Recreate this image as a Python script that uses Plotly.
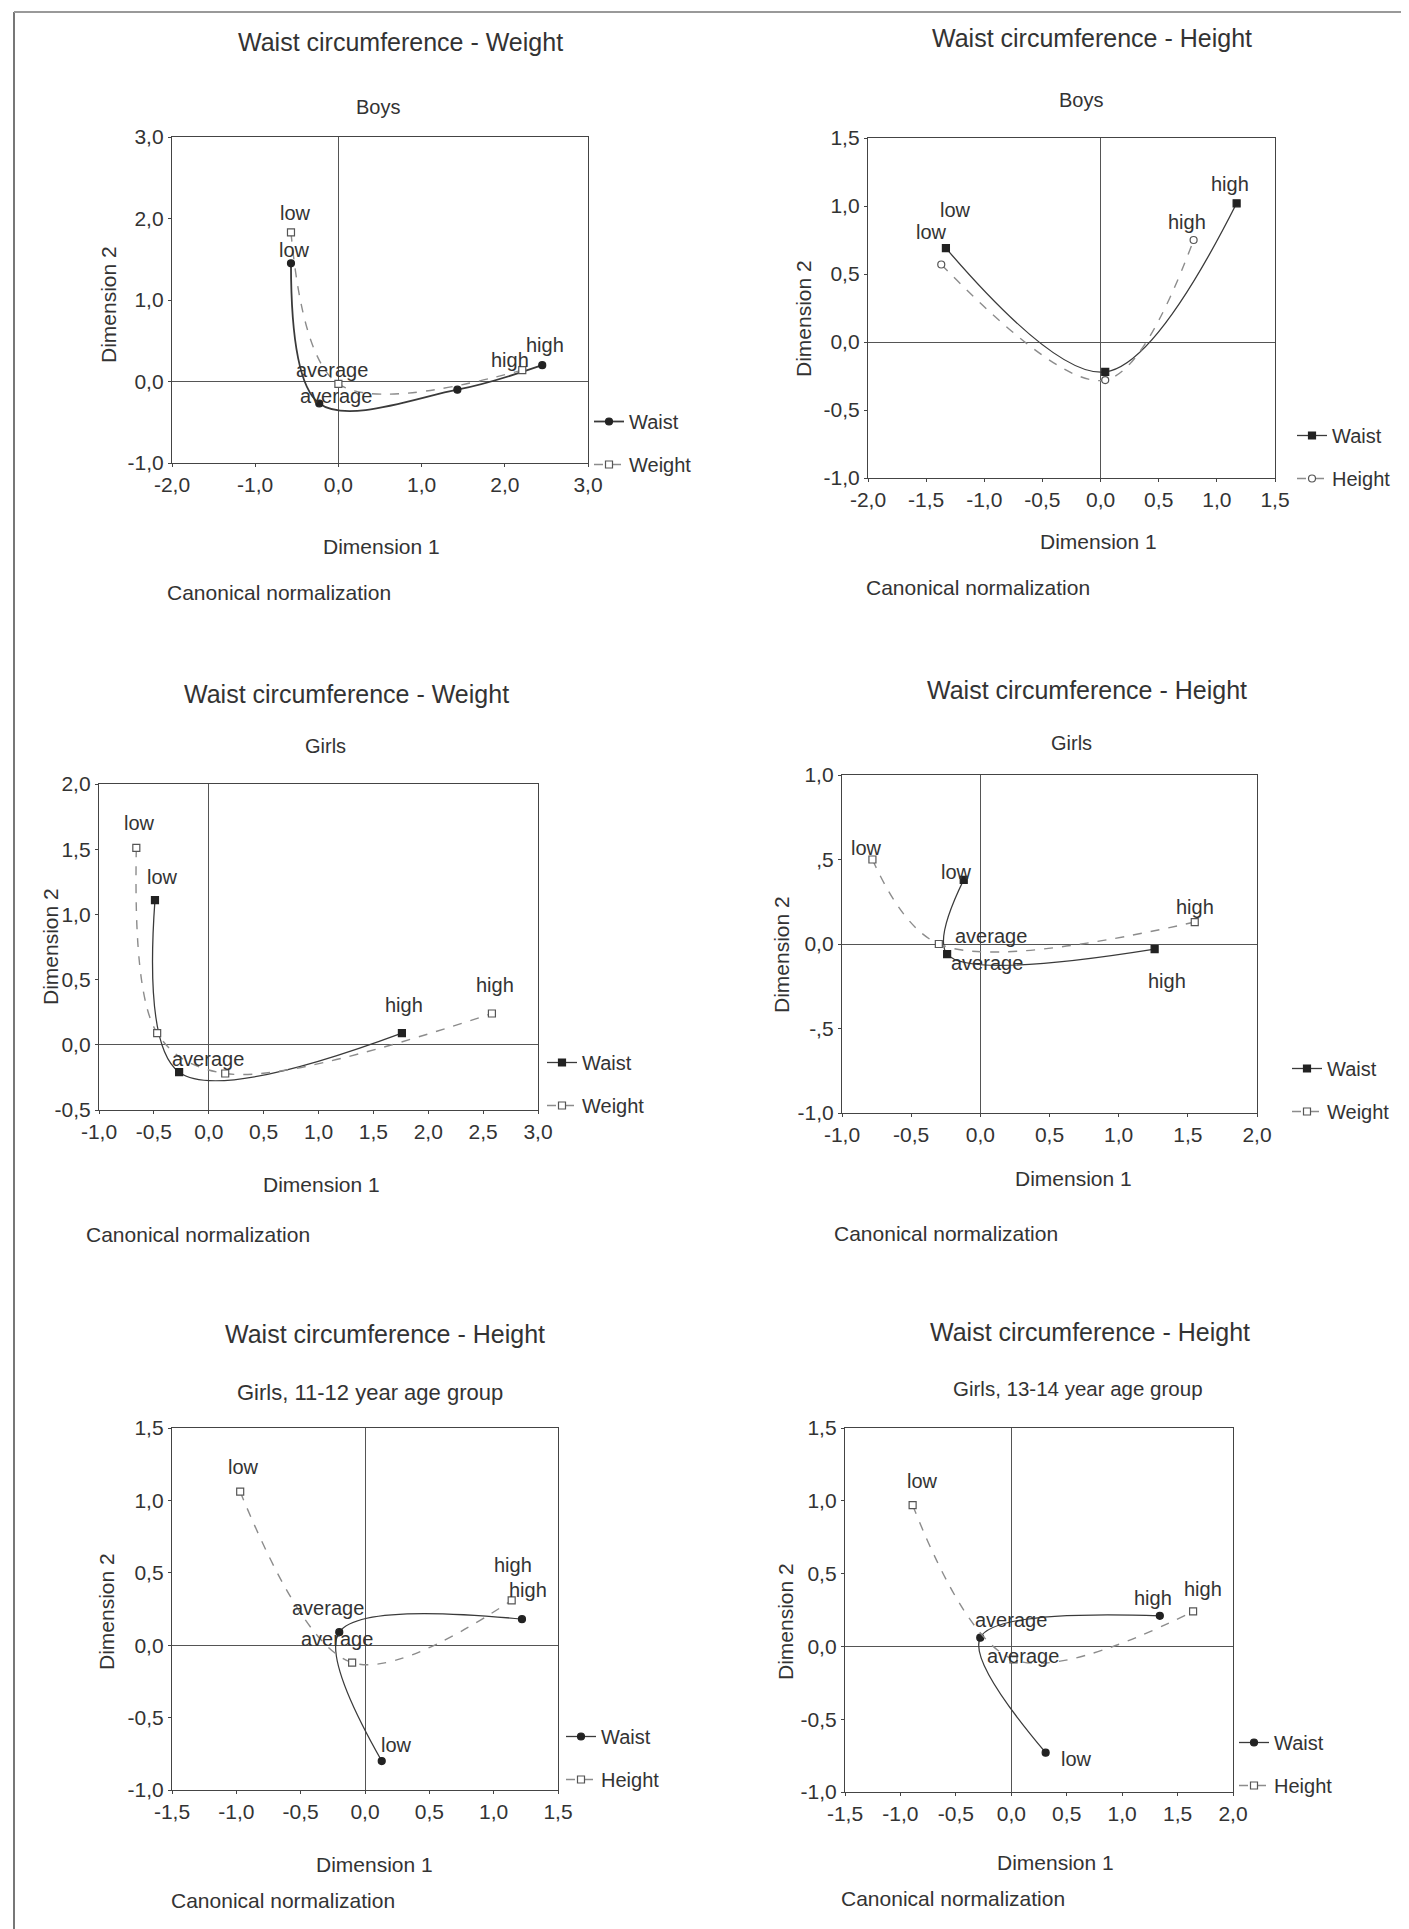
import plotly.graph_objects as go

W, H = 1409, 1929
OFF = 8  # the page body margin shifts the figure; positions below are screen pixels
FONT = "Liberation Sans, Arial, sans-serif"
INK = "#333333"

# ---------------- data ----------------
# Panel 1: Boys - waist circumference vs weight
p1_waist_x = [-0.57, -0.23, 1.43, 2.45]
p1_waist_y = [1.45, -0.27, -0.10, 0.20]
p1_waist_lbl = ["low", "average", "", "high"]
p1_weight_x = [-0.57, 0.0, 2.21]
p1_weight_y = [1.83, -0.03, 0.14]
p1_weight_lbl = ["low", "average", "high"]

# Panel 2: Boys - waist circumference vs height
p2_waist_x = [-1.33, 0.04, 1.17]
p2_waist_y = [0.69, -0.22, 1.02]
p2_waist_lbl = ["low", "", "high"]
p2_height_x = [-1.37, 0.04, 0.80]
p2_height_y = [0.57, -0.28, 0.75]
p2_height_lbl = ["low", "", "high"]

# Panel 3: Girls - waist circumference vs weight
p3_waist_x = [-0.49, -0.27, 1.76]
p3_waist_y = [1.11, -0.21, 0.09]
p3_waist_lbl = ["low", "average", "high"]
p3_weight_x = [-0.66, -0.47, 0.15, 2.58]
p3_weight_y = [1.51, 0.09, -0.22, 0.24]
p3_weight_lbl = ["low", "", "", "high"]

# Panel 4: Girls - waist circumference vs height (legend reads "Weight")
p4_waist_x = [-0.12, -0.24, 1.26]
p4_waist_y = [0.38, -0.06, -0.03]
p4_waist_lbl = ["low", "average", "high"]
p4_weight_x = [-0.78, -0.30, 1.55]
p4_weight_y = [0.50, 0.00, 0.13]
p4_weight_lbl = ["low", "average", "high"]

# Panel 5: Girls 11-12 - waist circumference vs height
p5_waist_x = [0.13, -0.20, 1.22]
p5_waist_y = [-0.80, 0.09, 0.18]
p5_waist_lbl = ["low", "average", "high"]
p5_height_x = [-0.97, -0.10, 1.14]
p5_height_y = [1.06, -0.12, 0.31]
p5_height_lbl = ["low", "average", "high"]

# Panel 6: Girls 13-14 - waist circumference vs height
p6_waist_x = [0.31, -0.28, 1.34]
p6_waist_y = [-0.73, 0.06, 0.21]
p6_waist_lbl = ["low", "average", "high"]
p6_height_x = [-0.89, 0.02, 1.64]
p6_height_y = [0.97, -0.09, 0.24]
p6_height_lbl = ["low", "average", "high"]

# tick labels
tk_x1 = ["-2,0", "-1,0", "0,0", "1,0", "2,0", "3,0"]
tk_y1 = ["-1,0", "0,0", "1,0", "2,0", "3,0"]
tk_x2 = ["-2,0", "-1,5", "-1,0", "-0,5", "0,0", "0,5", "1,0", "1,5"]
tk_y2 = ["-1,0", "-0,5", "0,0", "0,5", "1,0", "1,5"]
tk_x3 = ["-1,0", "-0,5", "0,0", "0,5", "1,0", "1,5", "2,0", "2,5", "3,0"]
tk_y3 = ["-0,5", "0,0", "0,5", "1,0", "1,5", "2,0"]
tk_x4 = ["-1,0", "-0,5", "0,0", "0,5", "1,0", "1,5", "2,0"]
tk_y4 = ["-1,0", "-,5", "0,0", ",5", "1,0"]
tk_x5 = ["-1,5", "-1,0", "-0,5", "0,0", "0,5", "1,0", "1,5"]
tk_y5 = ["-1,0", "-0,5", "0,0", "0,5", "1,0", "1,5"]
tk_x6 = ["-1,5", "-1,0", "-0,5", "0,0", "0,5", "1,0", "1,5", "2,0"]
tk_y6 = ["-1,0", "-0,5", "0,0", "0,5", "1,0", "1,5"]


def to_num(t):
    s = t.replace(",", ".")
    if s.startswith("-."):
        s = "-0" + s[1:]
    elif s.startswith("."):
        s = "0" + s
    return float(s)


# ---------------- layout / styling ----------------
panels = [
    dict(title="Waist circumference - Weight", sub="Boys", subsize=20,
         box=(172, 137, 588, 463), xr=[-2, 3], yr=[-1, 3], tx=tk_x1, ty=tk_y1,
         s1=("Waist", p1_waist_x, p1_waist_y, p1_waist_lbl, "circle",
             [(4, 13), (17, 8), (0, 0), (3, 20)]),
         s2=("Weight", p1_weight_x, p1_weight_y, p1_weight_lbl, "square",
             [(5, 19), (-6, 14), (-12, 10)]),
         tpos=(400, 42), spos=(378, 107), d1=(381, 546), d2=(108, 305), cn=(165, 592),
         leg=(589, 402), lw=1.8),
    dict(title="Waist circumference - Height", sub="Boys", subsize=20,
         box=(868, 138, 1275, 478), xr=[-2, 1.5], yr=[-1, 1.5], tx=tk_x2, ty=tk_y2,
         s1=("Waist", p2_waist_x, p2_waist_y, p2_waist_lbl, "square",
             [(10, 38), (0, 0), (-7, 19)]),
         s2=("Height", p2_height_x, p2_height_y, p2_height_lbl, "circle",
             [(-10, 32), (0, 0), (-7, 18)]),
         tpos=(1092, 38), spos=(1081, 100), d1=(1098, 541), d2=(803, 318), cn=(864, 587),
         leg=(1292, 416), lw=1.3),
    dict(title="Waist circumference - Weight", sub="Girls", subsize=20,
         box=(99, 784, 538, 1110), xr=[-1, 3], yr=[-0.5, 2], tx=tk_x3, ty=tk_y3,
         s1=("Waist", p3_waist_x, p3_waist_y, p3_waist_lbl, "square",
             [(8, 23), (29, 13), (2, 28)]),
         s2=("Weight", p3_weight_x, p3_weight_y, p3_weight_lbl, "square",
             [(3, 25), (0, 0), (0, 0), (3, 29)]),
         tpos=(346, 694), spos=(325, 746), d1=(321, 1184), d2=(50, 947), cn=(84, 1234),
         leg=(542, 1043), lw=1.3),
    dict(title="Waist circumference - Height", sub="Girls", subsize=20,
         box=(842, 775, 1257, 1113), xr=[-1, 2], yr=[-1, 1], tx=tk_x4, ty=tk_y4,
         s1=("Waist", p4_waist_x, p4_waist_y, p4_waist_lbl, "square",
             [(-7, 8), (40, -9), (12, -32)]),
         s2=("Weight", p4_weight_x, p4_weight_y, p4_weight_lbl, "square",
             [(-6, 11), (52, 8), (0, 15)]),
         tpos=(1087, 690), spos=(1071, 743), d1=(1073, 1178), d2=(781, 955), cn=(832, 1233),
         leg=(1287, 1049), lw=1.3),
    dict(title="Waist circumference - Height", sub="Girls, 11-12 year age group", subsize=22,
         box=(172, 1428, 558, 1790), xr=[-1.5, 1.5], yr=[-1, 1.5], tx=tk_x5, ty=tk_y5,
         s1=("Waist", p5_waist_x, p5_waist_y, p5_waist_lbl, "circle",
             [(15, 16), (-11, 24), (-9, 54)]),
         s2=("Height", p5_height_x, p5_height_y, p5_height_lbl, "square",
             [(3, 25), (-15, 24), (16, 10)]),
         tpos=(385, 1334), spos=(370, 1392), d1=(374, 1864), d2=(106, 1612), cn=(169, 1900),
         leg=(561, 1717), lw=1.3),
    dict(title="Waist circumference - Height", sub="Girls, 13-14 year age group", subsize=20.5,
         box=(845, 1428, 1233, 1792), xr=[-1.5, 2], yr=[-1, 1.5], tx=tk_x6, ty=tk_y6,
         s1=("Waist", p6_waist_x, p6_waist_y, p6_waist_lbl, "circle",
             [(31, -6), (31, 18), (-7, 18)]),
         s2=("Height", p6_height_x, p6_height_y, p6_height_lbl, "square",
             [(10, 24), (9, 4), (10, 22)]),
         tpos=(1090, 1332), spos=(1078, 1388), d1=(1055, 1862), d2=(785, 1622), cn=(839, 1898),
         leg=(1234, 1723), lw=1.3),
]


def px_x(px):
    return (px - OFF) / W


def px_y(py):
    return 1 - (py - OFF) / H


def text_ann(px, py, text, size, anchor="center", angle=0):
    return dict(x=px_x(px), y=px_y(py), xref="paper", yref="paper", text=text, showarrow=False,
                xanchor=anchor, yanchor="middle", textangle=angle,
                font=dict(family=FONT, size=size, color=INK))


fig = go.Figure()
annotations = []
layout = dict(
    width=W, height=H,
    margin=dict(l=0, r=0, t=0, b=0, pad=0, autoexpand=False),
    paper_bgcolor="white", plot_bgcolor="white",
    font=dict(family=FONT, size=20, color=INK),
    showlegend=True,
)

for i, p in enumerate(panels, start=1):
    x0, y0, x1, y1 = p["box"]
    ax = "" if i == 1 else str(i)
    axis_common = dict(showgrid=False, showline=True, mirror=True, linecolor="#444",
                       linewidth=1.3, zeroline=True, zerolinecolor="#555", zerolinewidth=1.2,
                       ticks="outside", ticklen=3, tickcolor="#444", automargin=False,
                       tickfont=dict(family=FONT, size=21, color=INK))
    layout["xaxis" + ax] = dict(axis_common, domain=[px_x(x0), px_x(x1)], range=p["xr"],
                                tickvals=[to_num(t) for t in p["tx"]], ticktext=p["tx"],
                                anchor="y" + ax)
    layout["yaxis" + ax] = dict(axis_common, domain=[px_y(y1), px_y(y0)], range=p["yr"],
                                tickvals=[to_num(t) for t in p["ty"]], ticktext=p["ty"],
                                anchor="x" + ax)
    legname = "legend" if i == 1 else "legend" + str(i)
    lx, ly = p["leg"]
    layout[legname] = dict(x=px_x(lx), y=px_y(ly), xanchor="left", yanchor="top",
                           bgcolor="rgba(0,0,0,0)", font=dict(family=FONT, size=20, color=INK),
                           itemwidth=30, tracegroupgap=14, traceorder="grouped")

    for k, (name, xs, ys, lbls, sym, offs) in enumerate([p["s1"], p["s2"]]):
        solid = k == 0
        fig.add_trace(go.Scatter(
            x=xs, y=ys, mode="lines+markers", name=name,
            legendgroup="g%d_%d" % (i, k), legend=legname,
            xaxis="x" + ax, yaxis="y" + ax,
            line=dict(shape="spline", smoothing=1.0,
                      color="#3a3a3a" if solid else "#8c8c8c",
                      width=p["lw"] if solid else 1.4,
                      dash="solid" if solid else "dash"),
            marker=dict(symbol=sym, size=7,
                        color="#222" if solid else "white",
                        line=dict(color="#222" if solid else "#555", width=1.2)),
        ))
        for xv, yv, lb, (dx, dy) in zip(xs, ys, lbls, offs):
            if lb:
                annotations.append(dict(x=xv, y=yv, xref="x" + ax, yref="y" + ax, text=lb,
                                        showarrow=False, xshift=dx, yshift=dy,
                                        xanchor="center", yanchor="middle",
                                        font=dict(family=FONT, size=20, color=INK)))

    annotations.append(text_ann(*p["tpos"], p["title"], 25))
    annotations.append(text_ann(*p["spos"], p["sub"], p["subsize"]))
    annotations.append(text_ann(*p["d1"], "Dimension 1", 21))
    annotations.append(text_ann(*p["d2"], "Dimension 2", 21, angle=-90))
    annotations.append(text_ann(*p["cn"], "Canonical normalization", 21, anchor="left"))

layout["annotations"] = annotations
layout["shapes"] = [
    dict(type="line", xref="paper", yref="paper", x0=px_x(14), x1=px_x(14), y0=0, y1=px_y(12),
         line=dict(color="#777", width=2)),
    dict(type="line", xref="paper", yref="paper", x0=px_x(14), x1=1, y0=px_y(12), y1=px_y(12),
         line=dict(color="#999", width=2)),
]
fig.update_layout(**layout)
fig.write_html("out.html")
